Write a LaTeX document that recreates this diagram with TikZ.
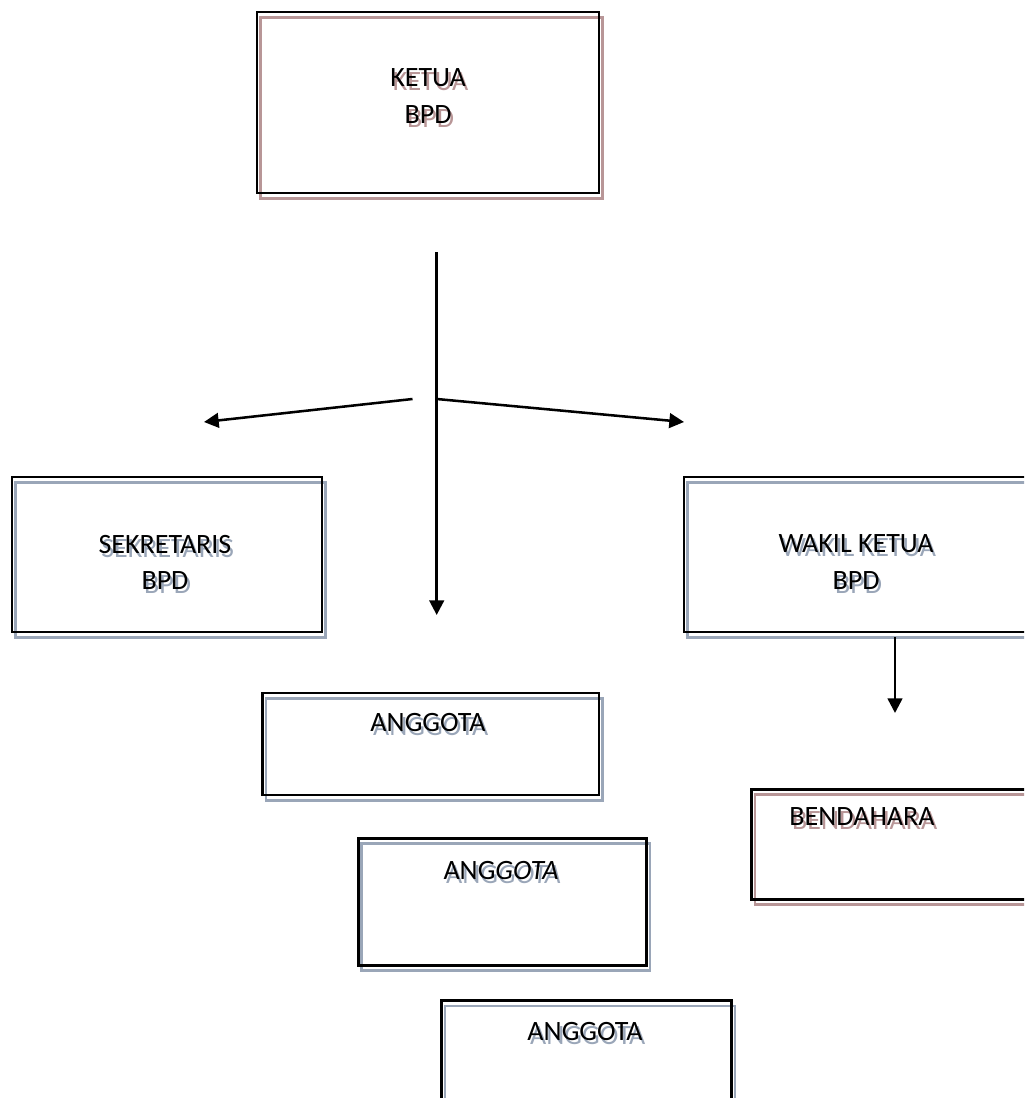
\documentclass[tikz,border=0pt]{standalone}
\usepackage{fontspec}
\setmainfont{Carlito}
\usetikzlibrary{arrows.meta,calc,positioning,shadows}
\definecolor{ShadeRed}{HTML}{B89697}
\definecolor{ShadeBlue}{HTML}{9AA6B8}
% text with a soft drop shadow behind it
\newcommand\shtext[2]{\makebox[0pt][l]{\hspace{2pt}\raisebox{-3pt}[0pt][0pt]{\color{#1}#2}}#2}
\tikzset{
  orgbox/.style 2 args={draw=black,line width=2.2pt,inner sep=0pt,
    minimum width=#1*0.75pt,minimum height=#2*0.75pt},
  redshade/.style={general shadow={draw=ShadeRed,line width=1.8pt,shadow xshift=2.5pt,shadow yshift=-4pt}},
  blueshade/.style={general shadow={draw=ShadeBlue,line width=1.8pt,shadow xshift=2.5pt,shadow yshift=-4pt}},
  boxtext/.style={font=\fontsize{21}{27.5}\selectfont,align=center,inner sep=0pt},
  linkarrow/.style={-{Triangle[length=11pt,width=11pt]},line width=1.9pt,draw=black}
}
\begin{document}
\begin{tikzpicture}[x=0.75pt,y=-0.75pt]
  \path[use as bounding box,clip] (0,0) rectangle (1024,1098);

  % boxes
  \node[orgbox={342}{181},redshade] (ketua) at (428,102.5) {};
  \node[orgbox={310}{155},blueshade] (sekretaris) at (167,554.5) {};
  \node[orgbox={346}{155},blueshade] (wakil) at (857,554.5) {};
  \node[orgbox={336.5}{102},blueshade] (anggotaA) at (430.75,744) {};
  \node[orgbox={288.4}{126.7},blueshade] (anggotaB) at (502.5,901.7) {};
  \node[orgbox={290}{130},blueshade] (anggotaC) at (586.7,1065.7) {};
  \node[orgbox={308}{110},redshade] (bendahara) at (905.7,844.3) {};

  % texts
  \node[boxtext] (ketua-t) at (428,96) {\shtext{ShadeRed}{KETUA}\\\shtext{ShadeRed}{BPD}};
  \node[boxtext] (sekretaris-t) at (165,562.5) {\shtext{ShadeBlue}{SEKRETARIS}\\\shtext{ShadeBlue}{BPD}};
  \node[boxtext] (wakil-t) at (856,562) {\shtext{ShadeBlue}{WAKIL KETUA}\\\shtext{ShadeBlue}{BPD}};
  \node[boxtext] (anggotaA-t) at (428,722.3) {\shtext{ShadeBlue}{ANGGOTA}};
  \node[boxtext] (anggotaB-t) at (501,870.4) {\shtext{ShadeBlue}{ANG\textit{GOTA}}};
  \node[boxtext] (anggotaC-t) at (585,1031.5) {\shtext{ShadeBlue}{ANGGOTA}};
  \node[boxtext] (bendahara-t) at (862,816.7) {\shtext{ShadeRed}{BENDAHARA}};

  % connectors
  \coordinate (trunk) at (436.7,252);
  \coordinate (trunk end) at (436.7,615);
  \coordinate (fork left) at (412.5,399);
  \coordinate (fork right) at (436.7,399);
  \coordinate (to sek) at (204,422);
  \coordinate (to wakil) at (684,422);
  \coordinate (wakil out) at (895,637);
  \coordinate (wakil end) at (895,713);
  \draw[linkarrow] (trunk) -- (trunk end);
  \draw[linkarrow] (fork left) -- (to sek);
  \draw[linkarrow] (fork right) -- (to wakil);
  \draw[linkarrow] (wakil out) -- (wakil end);
\end{tikzpicture}
\end{document}
